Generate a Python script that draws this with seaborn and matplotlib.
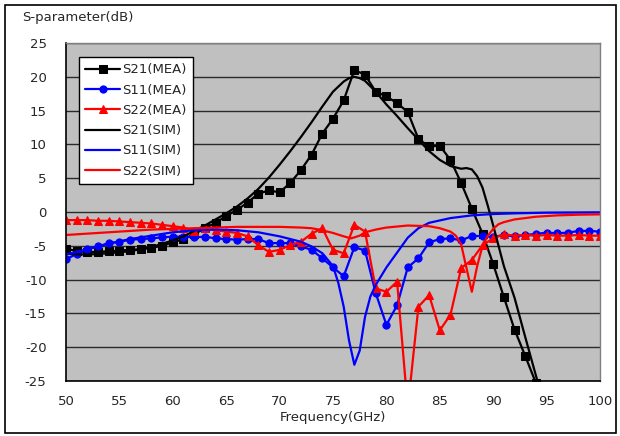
import numpy as np
import pandas as pd
import matplotlib
matplotlib.use("Agg")
import matplotlib.pyplot as plt
import seaborn as sns
from matplotlib.patches import Rectangle

# ---------------- data ----------------
f_s21_mea = [50, 51, 52, 53, 54, 55, 56, 57, 58, 59,
             60, 61, 62, 63, 64, 65, 66, 67, 68, 69,
             70, 71, 72, 73, 74, 75, 76, 77, 78, 79,
             80, 81, 82, 83, 84, 85, 86, 87, 88, 89,
             90, 91, 92, 93, 94]
s21_mea = [-5.4, -5.8, -5.9, -5.9, -5.8, -5.7, -5.6, -5.5, -5.3, -5.0,
           -4.5, -4.0, -3.3, -2.4, -1.6, -0.6, 0.3, 1.4, 2.7, 3.2,
           2.9, 4.3, 6.2, 8.5, 11.6, 13.8, 16.5, 21.0, 20.3, 17.8,
           17.1, 16.1, 14.8, 10.8, 9.7, 9.8, 7.7, 4.3, 0.5, -3.2,
           -7.7, -12.6, -17.4, -21.3, -25.3]

f_mea = [50, 51, 52, 53, 54, 55, 56, 57, 58, 59,
         60, 61, 62, 63, 64, 65, 66, 67, 68, 69,
         70, 71, 72, 73, 74, 75, 76, 77, 78, 79,
         80, 81, 82, 83, 84, 85, 86, 87, 88, 89,
         90, 91, 92, 93, 94, 95, 96, 97, 98, 99, 100]
s11_mea = [-7.0, -6.2, -5.5, -5.1, -4.6, -4.4, -4.1, -4.0, -3.9, -3.75,
           -3.65, -3.65, -3.75, -3.65, -3.9, -4.0, -4.1, -4.0, -4.0, -4.6,
           -4.6, -4.6, -5.1, -5.6, -6.85, -8.2, -9.5, -5.2, -5.7, -12.0,
           -16.7, -13.8, -8.2, -6.85, -4.5, -4.0, -3.9, -4.2, -3.55, -3.55,
           -3.7, -3.4, -3.6, -3.4, -3.25, -3.05, -3.15, -3.05, -2.8, -2.8, -2.9]
s22_mea = [-1.2, -1.2, -1.2, -1.3, -1.3, -1.4, -1.5, -1.6, -1.7, -1.9,
           -2.1, -2.3, -2.8, -2.3, -2.7, -2.9, -3.1, -3.6, -4.9, -5.9,
           -5.6, -4.9, -4.4, -3.2, -2.4, -5.6, -6.1, -1.9, -2.9, -11.3,
           -11.8, -10.3, -29.0, -14.0, -12.3, -17.5, -15.2, -8.3, -7.1, -4.9,
           -3.9, -3.3, -3.5, -3.4, -3.5, -3.4, -3.5, -3.5, -3.4, -3.5, -3.5]

f_s21_sim = [50, 52, 54, 56, 58, 60, 61, 62, 63, 64, 65, 66, 67, 68, 69,
             70, 71, 72, 73, 74, 75, 76, 76.5, 77, 77.5, 78, 79, 80, 81,
             82, 83, 84, 85, 86, 87, 87.5, 88, 88.5, 89, 89.5, 90, 91,
             92, 93, 94, 94.5]
s21_sim = [-6.2, -6.3, -6.1, -5.8, -5.2, -4.2, -3.6, -2.8, -2.0, -1.1, -0.2, 0.8, 2.0, 3.4, 5.1,
           7.0, 9.0, 11.1, 13.3, 15.6, 17.8, 19.3, 19.8, 20.0, 19.8, 19.4, 17.8, 15.9, 14.2,
           12.4, 10.7, 9.0, 7.7, 6.8, 6.4, 6.5, 6.3, 5.3, 3.6, 0.9, -2.0, -8.0,
           -12.7, -18.5, -24.2, -27.0]

f_s11_sim = [50, 52, 54, 56, 58, 60, 62, 64, 66, 68, 70, 71, 72, 73, 74, 75,
             75.5, 76, 76.5, 77, 77.5, 78, 78.5, 79, 80, 81, 82, 83, 84, 86,
             88, 90, 92, 95, 100]
s11_sim = [-6.3, -5.5, -4.7, -4.0, -3.5, -3.0, -2.7, -2.6, -2.7, -3.0, -3.6, -4.0, -4.4, -5.1, -6.1, -8.0,
           -10.5, -14.0, -19.0, -22.6, -20.5, -15.5, -12.5, -10.8, -8.2, -6.0, -3.8, -2.4, -1.6, -0.9,
           -0.5, -0.3, -0.2, -0.1, -0.05]

f_s22_sim = [50, 52, 54, 56, 58, 60, 62, 64, 66, 68, 70, 72, 73, 74, 75, 76,
             76.7, 77.5, 78, 79, 80, 82, 84, 85, 86, 86.5, 87, 87.5, 88, 88.5,
             89, 89.5, 90, 90.5, 91, 92, 94, 96, 98, 100]
s22_sim = [-3.4, -3.2, -3.0, -2.8, -2.6, -2.5, -2.4, -2.3, -2.2, -2.2, -2.2, -2.3, -2.4, -2.7, -3.1, -3.6,
           -3.9, -3.5, -3.0, -2.6, -2.3, -2.0, -2.1, -2.4, -2.9, -3.5, -4.8, -8.3, -11.8, -8.0,
           -5.0, -3.5, -2.5, -1.8, -1.5, -1.1, -0.7, -0.5, -0.4, -0.35]

x_ticks = [50, 55, 60, 65, 70, 75, 80, 85, 90, 95, 100]
y_ticks = [-25, -20, -15, -10, -5, 0, 5, 10, 15, 20, 25]

# ---------------- style ----------------
sns.set_theme(style="white")
plt.rcParams['font.family'] = ['DejaVu Sans']

fig = plt.figure(figsize=(6.2, 4.36), dpi=100)
ax = fig.add_axes([66/620, 1-381/436, 534/620, 338/436])
ax.set_facecolor('#C0C0C0')

series = [
    (f_s21_mea, s21_mea, 'black', 's', 'S21(MEA)'),
    (f_mea, s11_mea, '#0000FF', 'o', 'S11(MEA)'),
    (f_mea, s22_mea, '#FF0000', '^', 'S22(MEA)'),
    (f_s21_sim, s21_sim, 'black', None, 'S21(SIM)'),
    (f_s11_sim, s11_sim, '#0000FF', None, 'S11(SIM)'),
    (f_s22_sim, s22_sim, '#FF0000', None, 'S22(SIM)'),
]
for fx, vy, col, mk, lab in series:
    df = pd.DataFrame({'f': fx, 'v': vy})
    kw = dict(marker=mk, markersize=5.2, markeredgecolor=col, markerfacecolor=col) if mk else {}
    sns.lineplot(data=df, x='f', y='v', ax=ax, color=col, linewidth=1.6,
                 estimator=None, sort=False, label=lab, **kw)

ax.set_xlim(50, 100)
ax.set_ylim(-25, 25)
ax.set_xticks(x_ticks)
ax.set_yticks(y_ticks)
ax.set_xticklabels([str(t) for t in x_ticks], fontsize=9.5)
ax.set_yticklabels([str(t) for t in y_ticks], fontsize=9.5)
ax.tick_params(axis='x', direction='in', length=4, width=1, color='black', pad=10)
ax.tick_params(axis='y', length=0, pad=14)
ax.grid(axis='y', color='#2a2a2a', linewidth=1.0)
ax.grid(axis='x', visible=False)
ax.set_axisbelow(True)
for s in ['left', 'bottom']:
    ax.spines[s].set_color('black')
    ax.spines[s].set_linewidth(1.2)
for s in ['top', 'right']:
    ax.spines[s].set_color('#808080')
    ax.spines[s].set_linewidth(1.0)
ax.set_xlabel('Frequency(GHz)', fontsize=9.5, labelpad=2)
ax.set_ylabel('')

leg = ax.legend(loc='upper left', bbox_to_anchor=(0.024, 0.959), borderaxespad=0,
                fontsize=9.5, frameon=True, fancybox=False, edgecolor='black',
                framealpha=1, handlelength=2.6, handletextpad=0.2,
                labelspacing=0.55, borderpad=0.5, markerscale=1.0)
leg.get_frame().set_linewidth(1.0)
leg.get_frame().set_facecolor('white')

fig.text(22/620, 1-18/436, 'S-parameter(dB)', fontsize=9.5, ha='left', va='center')
fig.patches.append(Rectangle((5/620, 3/436), 611/620, 428/436, transform=fig.transFigure,
                             fill=False, edgecolor='black', linewidth=1.2))

fig.savefig('out.png', dpi=100)
